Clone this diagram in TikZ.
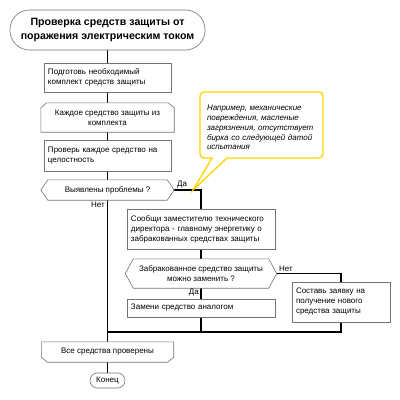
\documentclass[tikz,border=0pt]{standalone}
\usepackage{fontspec}
\setmainfont{Liberation Sans}
\usetikzlibrary{calc}
\pgfdeclarelayer{lines}
\pgfdeclarelayer{shapes}
\pgfsetlayers{lines,shapes,main}
\begin{document}
\begin{tikzpicture}[x=1pt,y=-1pt,
  txt/.style={font=\fontsize{8}{10}\selectfont},
  box/.style={txt,draw=black!55,line width=0.6pt,fill=white,rectangle,inner sep=0pt,align=left},
  plain/.style={txt,inner sep=0pt,align=center},
  shp/.style={draw=black!55,line width=0.6pt,fill=white},
  conn/.style={line width=1.9pt,black},
  lbl/.style={txt,inner sep=0pt}]
\useasboundingbox (0,0) rectangle (400,400);

% title
\node[draw=black!55,line width=0.6pt,fill=white,rounded corners=19.5pt,minimum width=195pt,minimum height=40pt,align=center,inner sep=0pt,font=\bfseries\fontsize{10.6}{13.5}\selectfont] (title) at (107.5,30) {Проверка средств защиты от\\поражения электрическим током};

% boxes
\node[box,minimum width=127pt,minimum height=29pt,text width=119pt] (b1) at (107.5,77.5) {Подготовь необходимый\\комплект средств защиты};
\node[plain,minimum width=133pt,minimum height=29pt] (ls) at (107.5,117.5) {Каждое средство защиты из\\комплекта};
\node[box,minimum width=127pt,minimum height=31pt,text width=119pt] (b3) at (107.5,155.5) {Проверь каждое средство на\\целостность};
\node[plain,minimum width=133pt,minimum height=20pt] (d1) at (107.5,190) {Выявлены проблемы ?};
\node[box,minimum width=148pt,minimum height=40pt,text width=140pt] (b4) at (201,229) {Сообщи заместителю технического\\директора - главному энергетику о\\забракованных средствах защиты};
\node[plain,minimum width=151pt,minimum height=29pt] (d2) at (201,273.5) {Забракованное средство защиты\\можно заменить ?};
\node[box,minimum width=148pt,minimum height=18pt,text width=140pt] (r2) at (201,308) {Замени средство аналогом};
\node[box,minimum width=98pt,minimum height=40pt,text width=90pt] (b5) at (341,302) {Составь заявку на\\получение нового\\средства защиты};
\node[plain,minimum width=132pt,minimum height=20pt] (le) at (107.5,352) {Все средства проверены};
\node[draw=black!55,line width=0.6pt,fill=white,rounded corners=7.4pt,minimum width=35pt,minimum height=15pt,inner sep=0pt,txt] (end) at (107.5,380.5) {Конец};

% note
\node[txt,font=\itshape\fontsize{8}{9.8}\selectfont,align=left,text width=115pt,inner sep=0pt] (note) at (264.5,127.5) {Например, механические\\повреждения, масленые\\загрязнения, отсутствует\\бирка со следующей датой\\испытания};
\coordinate (tip) at (193,190);

% labels
\node[lbl,anchor=south west] (l1) at (177,188.5) {Да};
\node[lbl,anchor=north east] (l2) at (105,202) {Нет};
\node[lbl,anchor=south west] (l3) at (279,271.5) {Нет};
\node[lbl,anchor=north east] (l4) at (199,289) {Да};

\coordinate (j) at (107.5,332);

\begin{pgfonlayer}{shapes}
\draw[shp] (ls.south west) -- ($(ls.north west)+(0,5)$) -- ($(ls.north west)+(6,0)$) -- ($(ls.north east)+(-6,0)$) -- ($(ls.north east)+(0,5)$) -- (ls.south east) -- cycle;
\draw[shp] (d1.west) -- ($(d1.north west)+(7,0)$) -- ($(d1.north east)+(-7,0)$) -- (d1.east) -- ($(d1.south east)+(-7,0)$) -- ($(d1.south west)+(7,0)$) -- cycle;
\draw[shp] (d2.west) -- ($(d2.north west)+(8,0)$) -- ($(d2.north east)+(-8,0)$) -- (d2.east) -- ($(d2.south east)+(-8,0)$) -- ($(d2.south west)+(8,0)$) -- cycle;
\draw[shp] (le.north west) -- (le.north east) -- ($(le.south east)+(0,-5)$) -- ($(le.south east)+(-6,0)$) -- ($(le.south west)+(6,0)$) -- ($(le.south west)+(0,-5)$) -- cycle;
\draw[draw={rgb,255:red,255;green,212;blue,0},line width=1.3pt,fill=white]
  (212,158) [rounded corners=4pt] -- (200,158) -- (200,92) -- (323,92) -- (323,158) [sharp corners] -- (227,158) -- (tip) -- cycle;
\end{pgfonlayer}

\begin{pgfonlayer}{lines}
\draw[conn] (title.south) -- (b1.north);
\draw[conn] (b1.south) -- (ls.north);
\draw[conn] (ls.south) -- (b3.north);
\draw[conn] (b3.south) -- (d1.north);
\draw[conn] (d1.south) -- (le.north);
\draw[conn] (d1.east) -| (b4.north);
\draw[conn] (b4.south) -- (d2.north);
\draw[conn] (d2.south) -- (r2.north);
\draw[conn] (d2.east) -| (b5.north);
\draw[conn] (r2.south) -- (r2.south |- j);
\draw[conn] (b5.south) |- (j);
\draw[conn] (le.south) -- (end.north);
\end{pgfonlayer}
\end{tikzpicture}
\end{document}
